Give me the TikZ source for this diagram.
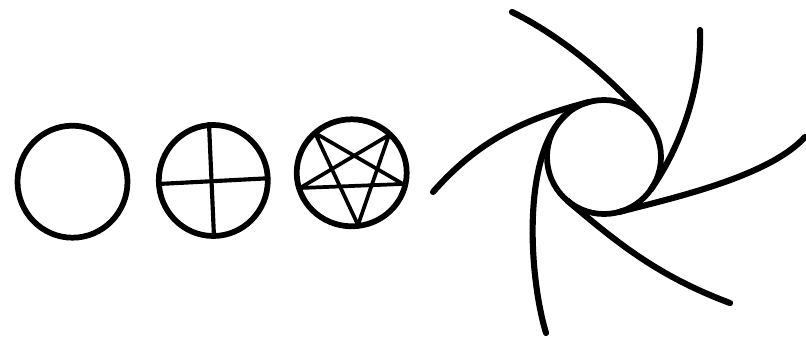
\documentclass[tikz,border=0pt]{standalone}
\begin{document}
\begin{tikzpicture}[x=0.75pt,y=-0.75pt,
  ink/.style={line width=4.3pt, line cap=round, line join=round},
  armink/.style={line width=4.6pt, line cap=round, line join=round},
  fineink/.style={line width=2.8pt, line cap=round, line join=round}]
\useasboundingbox (0,0) rectangle (806,339);
% plain circle
\coordinate (c1) at (72.5,181.7);
\draw[ink] (c1) ellipse [x radius=55, y radius=56];
% circle with cross
\coordinate (c2) at (213.3,180.5);
\draw[ink] (c2) ellipse [x radius=54.5, y radius=55.5];
\coordinate (v1) at (209,124);
\coordinate (v2) at (214,237);
\coordinate (h1) at (158,184);
\coordinate (h2) at (268,178.3);
\draw[fineink, line width=3.1pt] (v1) -- (v2);
\draw[fineink, line width=3.1pt] (h1) -- (h2);
% circle with pentagram
\coordinate (c3) at (351.7,172.8);
\draw[ink] (c3) ellipse [x radius=55, y radius=53.5];
\coordinate (pa) at (315,133);
\coordinate (pb) at (389,135);
\coordinate (pc) at (403,184);
\coordinate (pd) at (358,225);
\coordinate (pe) at (300,188);
\draw[fineink] (pa) -- (pc) -- (pe) -- (pb) -- (pd) -- cycle;
% pinwheel
\coordinate (c4) at (604,157);
\draw[ink] (c4) circle [radius=57];
\coordinate (a1) at (512,12);
\coordinate (t1) at (647.7,120.4);
\coordinate (a2) at (700,30);
\coordinate (t2) at (650.7,189.7);
\coordinate (a3) at (805,137);
\coordinate (t3) at (618.8,212.1);
\coordinate (a4) at (730,303);
\coordinate (t4) at (567.4,200.7);
\coordinate (a5) at (546,333);
\coordinate (t5) at (567.4,113.3);
\coordinate (a6) at (433,192);
\coordinate (t6) at (589.2,101.9);
\draw[armink] (a1) .. controls (575,42.8) and (628.4,97.4) .. (t1);
\draw[armink] (a2) .. controls (701.8,90) and (679.4,148.7) .. (t2);
\draw[armink] (a3) .. controls (768,177.7) and (667,199.2) .. (t3);
\draw[armink] (a4) .. controls (654.8,275) and (613.4,239.3) .. (t4);
\draw[armink] (a5) .. controls (528.6,275.4) and (521.4,151.9) .. (t5);
\draw[armink] (a6) .. controls (482.5,135.75) and (531.2,117.4) .. (t6);
\end{tikzpicture}
\end{document}
